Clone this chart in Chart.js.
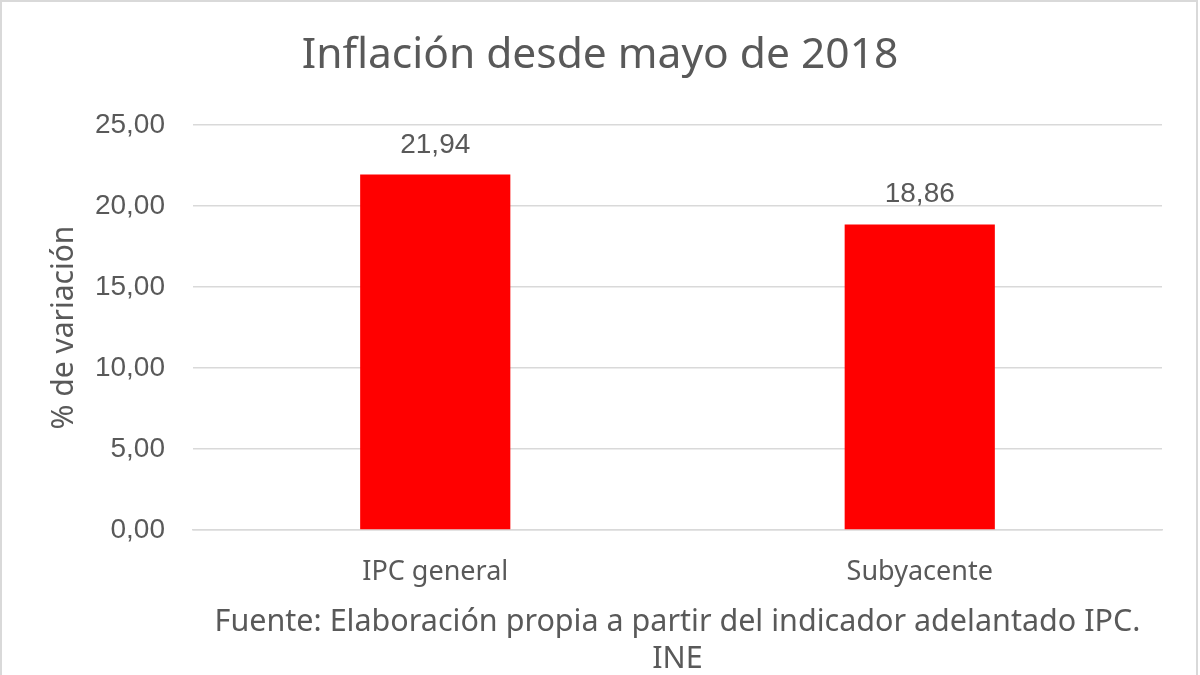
<!DOCTYPE html>
<html>
<head>
<meta charset="utf-8">
<script src="https://cdn.jsdelivr.net/npm/chart.js@4"></script>
<style>
  html, body { margin: 0; padding: 0; background: #fff; }
  #wrap { width: 1200px; height: 675px; position: relative; }
</style>
</head>
<body>
<div id="wrap"><canvas id="chart"></canvas></div>
<script>
// Values
const categories = ['IPC general', 'Subyacente'];
const variation = [21.94, 18.86];
const yTicks = [0, 5, 10, 15, 20, 25];

const TEXT = '#595959';
const GRID = '#d9d9d9';
const BAR = '#ff0000';

const fmt = (v) => v.toFixed(2).replace('.', ',');

// Value labels above each bar
const valueLabels = {
  id: 'valueLabels',
  afterDatasetsDraw(chart) {
    const { ctx } = chart;
    const meta = chart.getDatasetMeta(0);
    ctx.save();
    ctx.fillStyle = TEXT;
    ctx.font = '28px "Liberation Sans", Arial, sans-serif';
    ctx.textAlign = 'center';
    ctx.textBaseline = 'alphabetic';
    meta.data.forEach((bar, i) => {
      ctx.fillText(fmt(variation[i]), bar.x, bar.y - 22);
    });
    ctx.restore();
  },
};

// Thin grey frame around the chart
const frame = {
  id: 'frame',
  beforeDraw(chart) {
    const { ctx, width, height } = chart;
    ctx.save();
    ctx.fillStyle = '#fff';
    ctx.fillRect(0, 0, width, height);
    ctx.strokeStyle = GRID;
    ctx.lineWidth = 2;
    ctx.strokeRect(1, 1, width - 4, height + 4);
    ctx.restore();
  },
};

new Chart(document.getElementById('chart'), {
  type: 'bar',
  data: {
    labels: categories,
    datasets: [{
      data: variation,
      backgroundColor: BAR,
      borderWidth: 0,
      categoryPercentage: 1,
      barPercentage: 0.31,
    }],
  },
  options: {
    responsive: true,
    maintainAspectRatio: false,
    animation: false,
    layout: { padding: 0 },
    plugins: {
      legend: { display: false },
      tooltip: { enabled: false },
      title: {
        display: true,
        text: 'Inflación desde mayo de 2018',
        color: TEXT,
        font: { family: '"Noto Sans", sans-serif', size: 42.5, weight: 'normal', lineHeight: 1.2 },
        padding: { top: 30, bottom: 44 },
      },
    },
    scales: {
      x: {
        grid: { display: false, drawTicks: false },
        border: { display: true, color: GRID, width: 1.5 },
        ticks: {
          color: TEXT,
          padding: 26,
          font: { family: '"Noto Sans", sans-serif', size: 27 },
        },
        title: {
          display: true,
          text: ['Fuente: Elaboración propia a partir del indicador adelantado IPC.', 'INE'],
          color: TEXT,
          font: { family: '"Noto Sans", sans-serif', size: 30.5, lineHeight: 37 / 30.5 },
          padding: { top: 0, bottom: -3 },
        },
        afterFit(scale) { scale.height = 145; },
      },
      y: {
        min: 0,
        max: 25,
        afterBuildTicks(scale) { scale.ticks = yTicks.map((v) => ({ value: v })); },
        grid: { color: GRID, lineWidth: 1.5, drawTicks: false },
        border: { display: false },
        ticks: {
          color: TEXT,
          padding: 28,
          font: { family: '"Liberation Sans", Arial, sans-serif', size: 28 },
          callback: (v) => fmt(v),
        },
        title: {
          display: true,
          text: '% de variación',
          color: TEXT,
          font: { family: '"Noto Sans", sans-serif', size: 30, lineHeight: 1.2 },
          padding: { top: 46, bottom: 0 },
        },
        afterFit(scale) { scale.width = 193; },
      },
      // empty right-hand axis that only reserves the right margin
      yRight: {
        position: 'right',
        display: true,
        grid: { display: false, drawTicks: false },
        border: { display: false },
        ticks: { display: false },
        afterFit(scale) { scale.width = 38; },
      },
    },
  },
  plugins: [frame, valueLabels],
});
</script>
</body>
</html>
